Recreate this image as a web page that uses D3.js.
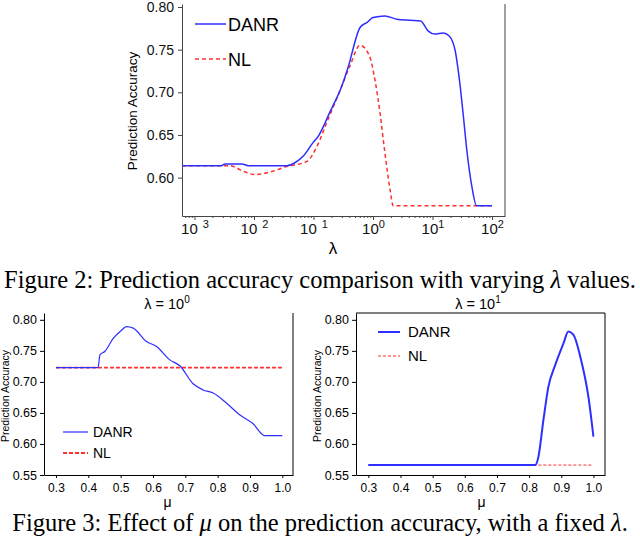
<!DOCTYPE html>
<html>
<head>
<meta charset="utf-8">
<script src="https://cdn.jsdelivr.net/npm/d3@7"></script>
<style>
  body { margin: 0; background: #fff; }
  svg { display: block; }
</style>
</head>
<body>
<script>
// Figure 2: accuracy vs log10(lambda)
const topDanrExp = [-3.21, -2.55, -2.49, -2.20, -2.10, -1.445, -1.30, -1.176, -1.008, -0.924, -0.723, -0.526, -0.42, -0.218, -0.10, 0, 0.2, 0.398, 0.62, 0.80, 0.924, 1.04, 1.18, 1.28, 1.38, 1.46, 1.52, 1.575, 1.66, 1.74, 2.0];
const topDanrAcc = [0.614, 0.614, 0.616, 0.616, 0.614, 0.614, 0.618, 0.625, 0.641, 0.648, 0.677, 0.707, 0.729, 0.776, 0.782, 0.7876, 0.7895, 0.7857, 0.7845, 0.7837, 0.772, 0.7682, 0.7694, 0.766, 0.749, 0.710, 0.671, 0.633, 0.590, 0.567, 0.567];
const topNlExp = [-3.21, -2.40, -2.20, -1.98, -1.73, -1.45, -1.11, -0.946, -0.78, -0.555, -0.387, -0.218, -0.062, 0.034, 0.118, 0.2, 0.286, 0.34, 2.0];
const topNlAcc = [0.614, 0.614, 0.608, 0.6035, 0.6066, 0.613, 0.619, 0.636, 0.664, 0.702, 0.731, 0.755, 0.743, 0.714, 0.6755, 0.629, 0.586, 0.567, 0.567];
const topYTicks = [0.60, 0.65, 0.70, 0.75, 0.80];
const topXExps = [-3, -2, -1, 0, 1, 2];
const topXLabels = ["3", "2", "1", "0", "1", "2"];   // minus signs are missing in the original render

// Figure 3: accuracy vs mu, lambda = 10^0 and 10^1
const leftMu = [0.3, 0.43, 0.436, 0.451, 0.477, 0.50, 0.518, 0.539, 0.58, 0.611, 0.652, 0.683, 0.724, 0.755, 0.786, 0.827, 0.868, 0.909, 0.945, 1.0];
const leftDanr = [0.723, 0.723, 0.7435, 0.749, 0.770, 0.782, 0.789, 0.7866, 0.765, 0.757, 0.7355, 0.726, 0.697, 0.687, 0.682, 0.666, 0.647, 0.633, 0.6135, 0.6135];
const leftNlMu = [0.3, 1.0];
const leftNl = [0.723, 0.723];
const rightMu = [0.3, 0.819, 0.829, 0.8445, 0.86, 0.881, 0.907, 0.922, 0.938, 0.959, 0.985, 1.0];
const rightDanr = [0.566, 0.566, 0.5795, 0.6387, 0.6924, 0.727, 0.7624, 0.781, 0.7758, 0.7408, 0.6737, 0.6118];
const rightNlMu = [0.3, 1.0];
const rightNl = [0.566, 0.566];
const muTicks = [0.3, 0.4, 0.5, 0.6, 0.7, 0.8, 0.9, 1.0];
const lowYTicks = [0.55, 0.60, 0.65, 0.70, 0.75, 0.80];

const blue = "#2e2eff", red = "#ff3030";
const sans = "'Liberation Sans', Arial, Helvetica";
const serif = "'Liberation Serif', 'Times New Roman', Times";

const svg = d3.select("body").append("svg")
    .attr("width", 640)
    .attr("height", 540)
    .style("font-family", sans);

const zip = (xs, ys) => xs.map((x, i) => [x, ys[i]]);

// ---------- top chart ----------
const xTop = d3.scaleLog().domain([Math.pow(10, -3.21), Math.pow(10, 2.218)]).range([182, 505]);
const yTop = d3.scaleLinear().domain([0.555, 0.8035]).range([216, 4]);

const gTop = svg.append("g");

gTop.append("g")
    .attr("transform", "translate(182,0)")
    .call(d3.axisLeft(yTop).tickValues(topYTicks).tickFormat(d3.format(".2f")).tickSize(4).tickPadding(4).tickSizeOuter(0))
    .call(g => g.selectAll("text").style("font-size", "14px").style("font-family", sans).attr("fill", "#111"));

// minor log ticks
const minor = [];
for (let e = -4; e <= 2; e++) for (let k = 2; k <= 9; k++) {
    const v = k * Math.pow(10, e);
    if (v > xTop.domain()[0] && v < xTop.domain()[1]) minor.push(v);
}
gTop.append("g")
    .attr("transform", "translate(0,216)")
    .call(d3.axisBottom(xTop).tickValues(minor).tickFormat("").tickSize(2).tickSizeOuter(0))
    .call(g => g.select(".domain").remove());

gTop.append("g")
    .attr("transform", "translate(0,216)")
    .call(d3.axisBottom(xTop).tickValues(topXExps.map(e => Math.pow(10, e))).tickFormat("").tickSize(4).tickSizeOuter(0))
    .call(g => g.selectAll(".tick").each(function(d, i) {
        const t = d3.select(this).append("text")
            .attr("fill", "#111")
            .attr("y", 18)
            .attr("text-anchor", "middle")
            .style("font-family", sans)
            .style("font-size", "15px");
        t.append("tspan").text("10");
        t.append("tspan").attr("dy", -6).attr("dx", topXExps[i] < 0 ? 5 : 0)
            .style("font-size", "11px").text(topXLabels[i]);
    }));

gTop.selectAll(".domain").attr("stroke", "#444");
gTop.selectAll(".tick line").attr("stroke", "#444");

// right border line
gTop.append("line")
    .attr("x1", 505).attr("x2", 505).attr("y1", 4).attr("y2", 216)
    .attr("stroke", "#444");

const lineTop = d3.line()
    .x(d => xTop(Math.pow(10, d[0])))
    .y(d => yTop(d[1]))
    .curve(d3.curveMonotoneX);

gTop.append("path")
    .datum(zip(topNlExp, topNlAcc))
    .attr("d", lineTop)
    .attr("fill", "none")
    .attr("stroke", red)
    .attr("stroke-width", 1.5)
    .attr("stroke-dasharray", "4,3");

gTop.append("path")
    .datum(zip(topDanrExp, topDanrAcc))
    .attr("d", lineTop)
    .attr("fill", "none")
    .attr("stroke", blue)
    .attr("stroke-width", 1.5);

// legend
gTop.append("line").attr("x1", 195).attr("x2", 226).attr("y1", 24).attr("y2", 24)
    .attr("stroke", blue).attr("stroke-width", 1.5);
gTop.append("text").attr("x", 228).attr("y", 31).style("font-size", "18px").text("DANR");
gTop.append("line").attr("x1", 195).attr("x2", 226).attr("y1", 59).attr("y2", 59)
    .attr("stroke", red).attr("stroke-width", 1.5).attr("stroke-dasharray", "4,3");
gTop.append("text").attr("x", 228).attr("y", 66).style("font-size", "18px").text("NL");

gTop.append("text")
    .attr("transform", "translate(137,111) rotate(-90)")
    .attr("text-anchor", "middle")
    .style("font-size", "13.5px")
    .text("Prediction Accuracy");

gTop.append("text")
    .attr("x", 333).attr("y", 254)
    .attr("text-anchor", "middle")
    .style("font-size", "17px")
    .text("λ");

// caption 2
const cap2 = svg.append("text")
    .attr("x", 320).attr("y", 288)
    .attr("text-anchor", "middle")
    .style("font-family", serif)
    .style("font-size", "24.5px");
cap2.append("tspan").text("Figure 2: Prediction accuracy comparison with varying ");
cap2.append("tspan").style("font-style", "italic").text("λ");
cap2.append("tspan").text(" values.");

// ---------- lower charts ----------
function muChart(o) {
    const x = d3.scaleLinear().domain(o.xDomain).range([o.left, o.right]);
    const y = d3.scaleLinear().domain([0.55, 0.811]).range([475, 313]);
    const g = svg.append("g");

    g.append("g")
        .attr("transform", `translate(${o.left},0)`)
        .call(d3.axisLeft(y).tickValues(lowYTicks).tickFormat(d3.format(".2f")).tickSize(4).tickPadding(3).tickSizeOuter(0))
        .call(a => a.selectAll("text").style("font-size", "12.5px").style("font-family", sans));

    g.append("g")
        .attr("transform", "translate(0,475)")
        .call(d3.axisBottom(x).tickValues(muTicks).tickFormat(d3.format(".1f")).tickSize(3).tickPadding(5).tickSizeOuter(0))
        .call(a => a.selectAll("text").style("font-size", "12px").style("font-family", sans));

    g.append("line").attr("x1", o.right).attr("x2", o.right).attr("y1", 313).attr("y2", 475).attr("stroke", "#000");
    if (o.box) g.append("line").attr("x1", o.left).attr("x2", o.right).attr("y1", 313).attr("y2", 313).attr("stroke", "#000");

    const line = d3.line().x(d => x(d[0])).y(d => y(d[1]));

    g.append("path").datum(zip(o.nlMu, o.nl)).attr("d", line)
        .attr("fill", "none").attr("stroke", red)
        .attr("stroke-width", o.nlWidth).attr("stroke-dasharray", o.nlDash);
    g.append("path").datum(zip(o.mu, o.danr)).attr("d", line.curve(d3.curveMonotoneX))
        .attr("fill", "none").attr("stroke", blue).attr("stroke-width", o.danrWidth);

    // title
    const t = g.append("text").attr("x", o.titleX).attr("y", 309)
        .attr("text-anchor", "middle").style("font-size", "14.5px");
    t.append("tspan").text("λ = 10");
    t.append("tspan").attr("dy", -6).style("font-size", "10px").text(o.exp);

    g.append("text")
        .attr("transform", `translate(${o.ylabX},396) rotate(-90)`)
        .attr("text-anchor", "middle")
        .style("font-size", "10.5px")
        .text("Prediction Accuracy");

    g.append("text").attr("x", (o.left + o.right) / 2 + o.muDx).attr("y", 507)
        .attr("text-anchor", "middle").style("font-size", "14px").text("μ");

    // legend
    const L = o.legend;
    g.append("line").attr("x1", L.x1).attr("x2", L.x2).attr("y1", L.y1).attr("y2", L.y1)
        .attr("stroke", blue).attr("stroke-width", o.danrWidth);
    g.append("text").attr("x", L.tx).attr("y", L.y1 + 5).style("font-size", L.fs).text("DANR");
    g.append("line").attr("x1", L.x1).attr("x2", L.x2).attr("y1", L.y2).attr("y2", L.y2)
        .attr("stroke", red).attr("stroke-width", o.nlWidth).attr("stroke-dasharray", o.nlDash);
    g.append("text").attr("x", L.tx).attr("y", L.y2 + 5).style("font-size", L.fs).text("NL");
}

muChart({
    xDomain: [0.263, 1.033], left: 44, right: 293, box: false,
    mu: leftMu, danr: leftDanr, nlMu: leftNlMu, nl: leftNl,
    danrWidth: 1.2, nlWidth: 1.8, nlDash: "4,2",
    titleX: 167, exp: "0", ylabX: 9, muDx: -1,
    legend: { x1: 63, x2: 88, y1: 432, y2: 453, tx: 93, fs: "14px" }
});

muChart({
    xDomain: [0.2616, 1.036], left: 356, right: 605, box: true,
    mu: rightMu, danr: rightDanr, nlMu: rightNlMu, nl: rightNl,
    danrWidth: 2, nlWidth: 1, nlDash: "3,2",
    titleX: 478, exp: "1", ylabX: 321, muDx: 1,
    legend: { x1: 378, x2: 400, y1: 332, y2: 356, tx: 408, fs: "15px" }
});

// caption 3
const cap3 = svg.append("text")
    .attr("x", 320).attr("y", 531)
    .attr("text-anchor", "middle")
    .style("font-family", serif)
    .style("font-size", "24.5px");
cap3.append("tspan").text("Figure 3: Effect of ");
cap3.append("tspan").style("font-style", "italic").text("μ");
cap3.append("tspan").text(" on the prediction accuracy, with a fixed ");
cap3.append("tspan").style("font-style", "italic").text("λ");
cap3.append("tspan").text(".");
</script>
</body>
</html>
